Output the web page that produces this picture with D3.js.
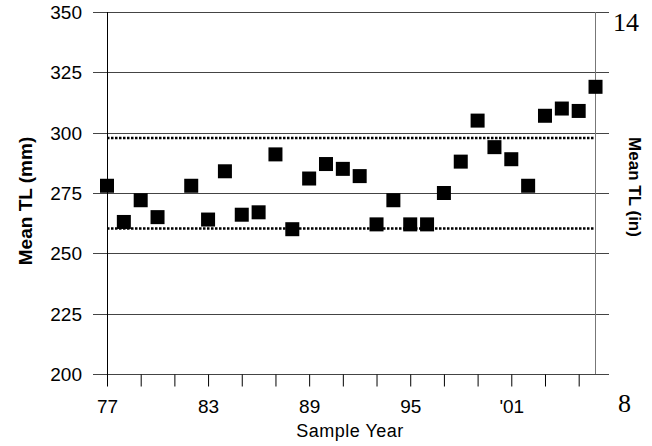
<!DOCTYPE html>
<meta charset="utf-8">
<script src="https://d3js.org/d3.v7.min.js"></script>
<style>
body { margin: 0; background: #fff; }
text { font-family: "Liberation Sans", Arial, sans-serif; fill: #000; }
.grid line { stroke: #444; stroke-width: 1px; }
.ref { fill: none; stroke: #000; stroke-width: 2.5px; stroke-dasharray: 2.5,1.5; }
</style>
<body>
<script>

// sample years (two-digit, 100+ = 2000s) and mean total length (mm)
var years = [77, 78, 79, 80, 82, 83, 84, 85, 86, 87, 88, 89, 90, 91, 92, 93, 94, 95, 96, 97, 98, 99, 100, 101, 102, 103, 104, 105, 106];
var meanTL = [278, 263, 272, 265, 278, 264, 284, 266, 267, 291, 260, 281, 287, 285, 282, 262, 272, 262, 262, 275, 288, 305, 294, 289, 278, 307, 310, 309, 319];
var refLines = [297.8, 260.3];
var yTicks = [200, 225, 250, 275, 300, 325, 350];
var xTicks = [77, 79, 81, 83, 85, 87, 89, 91, 93, 95, 97, 99, 101, 103, 105];
var xLabels = {77: "77", 83: "83", 89: "89", 95: "95", 101: "'01"};

var width = 652, height = 446;

var x = d3.scaleLinear().domain([77, 106.8]).range([107, 609]);
var y = d3.scaleLinear().domain([200, 350]).range([374, 12]);

var svg = d3.select("body").append("svg")
    .attr("width", width)
    .attr("height", height);

// horizontal grid with outer tick on the left
var grid = svg.append("g").attr("class", "grid");
grid.selectAll("line")
    .data(yTicks)
  .enter().append("line")
    .attr("x1", 93)
    .attr("x2", 609)
    .attr("y1", function(d) { return Math.round(y(d)) + 0.5; })
    .attr("y2", function(d) { return Math.round(y(d)) + 0.5; });

// right border
svg.append("line")
    .attr("x1", 595.5).attr("x2", 595.5)
    .attr("y1", y(350)).attr("y2", y(200))
    .attr("stroke", "#777");

// left axis line
svg.append("line")
    .attr("x1", 107.5).attr("x2", 107.5)
    .attr("y1", y(350)).attr("y2", y(200) + 12)
    .attr("stroke", "#000");

// y tick labels
svg.append("g").selectAll("text")
    .data(yTicks)
  .enter().append("text")
    .attr("x", 82)
    .attr("y", function(d) { return y(d) + 7; })
    .attr("text-anchor", "end")
    .style("font-size", "19px")
    .text(function(d) { return d; });

// x axis
var xAxis = d3.axisBottom(x)
    .tickValues(xTicks)
    .tickSize(12)
    .tickFormat(function(d) { return xLabels[d] || ""; });

var gx = svg.append("g")
    .attr("transform", "translate(0," + (Math.round(y(200)) + 0.5) + ")")
    .call(xAxis);
gx.select(".domain").remove();
gx.selectAll(".tick line").attr("stroke", "#000");
gx.selectAll(".tick text")
    .attr("dy", 0)
    .attr("y", 38.5)
    .style("font-family", "Liberation Sans, Arial, sans-serif")
    .style("font-size", "19px");

// reference lines
svg.append("g").selectAll("line")
    .data(refLines)
  .enter().append("line")
    .attr("class", "ref")
    .attr("x1", x(77))
    .attr("x2", 595)
    .attr("y1", function(d) { return y(d); })
    .attr("y2", function(d) { return y(d); });

// points
var s = 14;
svg.append("g").selectAll("rect")
    .data(years)
  .enter().append("rect")
    .attr("x", function(d) { return x(d) - s / 2; })
    .attr("y", function(d, i) { return y(meanTL[i]) - s / 2; })
    .attr("width", s)
    .attr("height", s)
    .attr("fill", "#000");

// axis titles
svg.append("text")
    .attr("transform", "translate(32,201) rotate(-90)")
    .attr("text-anchor", "middle")
    .style("font-size", "19px")
    .style("font-weight", "bold")
    .text("Mean TL (mm)");

svg.append("text")
    .attr("transform", "translate(629,187) rotate(90)")
    .attr("text-anchor", "middle")
    .style("font-size", "17px")
    .style("font-weight", "bold")
    .text("Mean TL (in)");

svg.append("text")
    .attr("x", 350)
    .attr("y", 437)
    .attr("text-anchor", "middle")
    .style("font-size", "18px")
    .style("letter-spacing", "0.5px")
    .text("Sample Year");

// right side inch labels
svg.append("text")
    .attr("x", 613)
    .attr("y", 31)
    .style("font-family", "Liberation Serif, Times New Roman, serif")
    .style("font-size", "26px")
    .text("14");

svg.append("text")
    .attr("x", 618)
    .attr("y", 412)
    .style("font-family", "Liberation Serif, Times New Roman, serif")
    .style("font-size", "26px")
    .text("8");

</script>
</body>
</html>
